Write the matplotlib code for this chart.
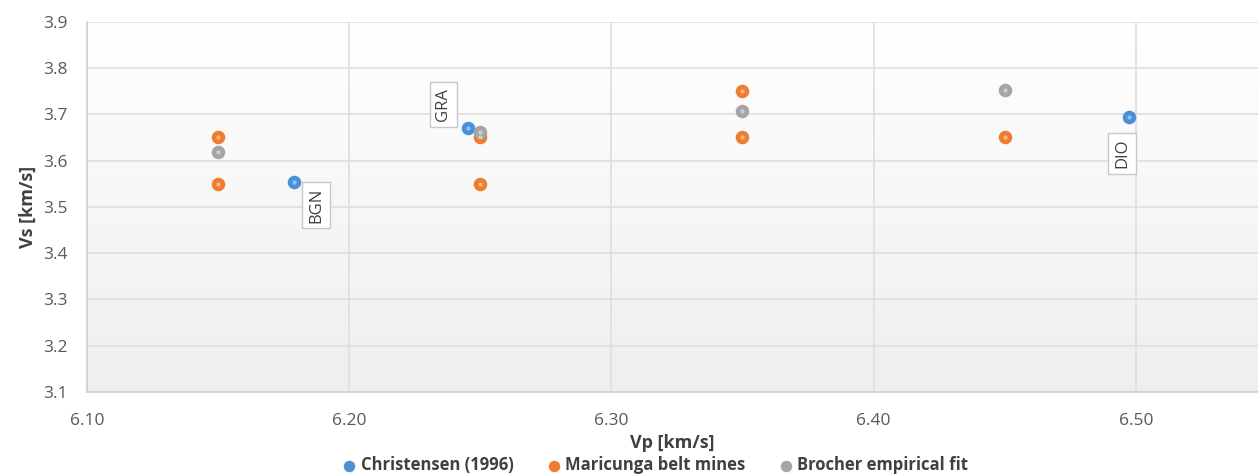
import numpy as np
import matplotlib.pyplot as plt

# data
christensen_vp = [6.179, 6.2455, 6.4973]
christensen_vs = [3.554, 3.671, 3.695]
christensen_labels = ["BGN", "GRA", "DIO"]

maricunga_vp = [6.15, 6.15, 6.25, 6.25, 6.35, 6.35, 6.45]
maricunga_vs = [3.65, 3.55, 3.65, 3.55, 3.75, 3.65, 3.65]

brocher_vp = [6.15, 6.25, 6.35, 6.45]
brocher_vs = [3.619, 3.662, 3.707, 3.752]

xticks = [6.10, 6.20, 6.30, 6.40, 6.50]
yticks = [3.1, 3.2, 3.3, 3.4, 3.5, 3.6, 3.7, 3.8, 3.9]

plt.rcParams['font.family'] = ['Open Sans', 'DejaVu Sans']

fig = plt.figure(figsize=(12.58, 4.75), dpi=100)
ax = fig.add_axes([0.069, 0.175, 0.931, 0.779])

# light vertical gradient in the plot area (white at top, light grey at bottom)
g = np.linspace(1.0, 0.935, 256).reshape(-1, 1, 1)
grad = np.repeat(np.repeat(g, 3, axis=2), 2, axis=1)
ax.imshow(grad, extent=[0, 1, 0, 1], transform=ax.transAxes, aspect='auto', zorder=0)

ax.set_xlim(6.10, 6.5466)
ax.set_ylim(3.1, 3.9)
ax.set_xticks(xticks)
ax.set_xticklabels([f"{v:.2f}" for v in xticks])
ax.set_yticks(yticks)
ax.set_yticklabels([f"{v:.1f}" for v in yticks])
ax.grid(True, color='#dedede', linewidth=1.2, zorder=1)
ax.set_axisbelow(True)
ax.tick_params(length=0, labelsize=12.5, colors='#595959')
ax.tick_params(axis='x', pad=15)
ax.tick_params(axis='y', pad=14)
for s in ['top', 'right']:
    ax.spines[s].set_visible(False)
for s in ['left', 'bottom']:
    ax.spines[s].set_color('#d0d0d0')
    ax.spines[s].set_linewidth(1.2)


def dots(x, y, color, label):
    ax.scatter(x, y, s=95, color=color, zorder=3, label=label, linewidths=0)
    ax.scatter(x, y, s=9, color='white', alpha=0.45, zorder=4, linewidths=0)


dots(christensen_vp, christensen_vs, '#4a90d9', 'Christensen (1996)')
dots(maricunga_vp, maricunga_vs, '#ed7d31', 'Maricunga belt mines')
dots(brocher_vp, brocher_vs, '#a5a5a5', 'Brocher empirical fit')

box = dict(boxstyle='square,pad=0.35', fc='white', ec='#c8c8c8', lw=1)
offsets = [(0.0085, -0.05), (-0.0095, 0.05), (-0.0025, -0.08)]
for x, y, t, (dx, dy) in zip(christensen_vp, christensen_vs, christensen_labels, offsets):
    ax.text(x + dx, y + dy, t, rotation=90, ha='center', va='center',
            fontsize=12, color='#404040', bbox=box, zorder=5)

ax.set_xlabel('Vp [km/s]', fontsize=13, fontweight='bold', color='#404040', labelpad=4)
ax.set_ylabel('Vs [km/s]', fontsize=13, fontweight='bold', color='#404040', labelpad=4)

leg = fig.legend(loc='lower center', bbox_to_anchor=(0.521, -0.03), ncol=3, frameon=False,
                 handlelength=0.8, handletextpad=0.3, columnspacing=2.0, markerscale=0.85,
                 prop={'size': 12, 'weight': 'bold'})
for t in leg.get_texts():
    t.set_color('#404040')

fig.savefig('out.png', dpi=100)
